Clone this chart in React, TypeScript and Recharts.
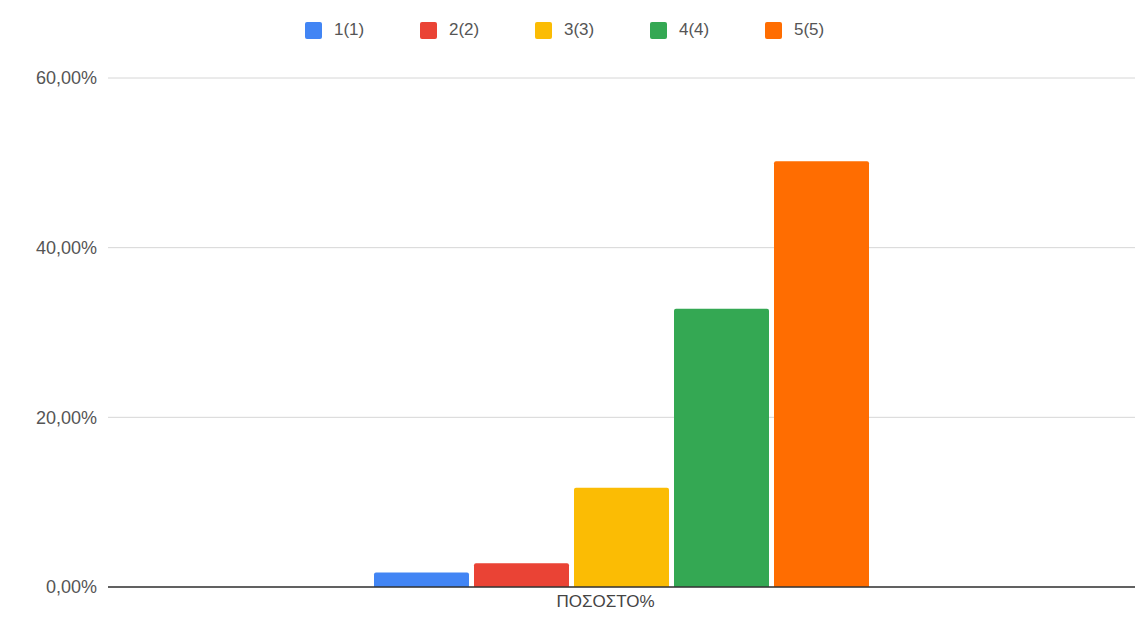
import React from 'react';
import { BarChart, Bar, XAxis, YAxis, CartesianGrid, Legend } from 'recharts';

const categories = ['ΠΟΣΟΣΤΟ%'];
const seriesNames = ['1(1)', '2(2)', '3(3)', '4(4)', '5(5)'];
const seriesValues = [1.7, 2.8, 11.7, 32.8, 50.2];
const seriesColors = ['#4285F4', '#EA4335', '#FBBC04', '#34A853', '#FF6D01'];
const yTicks = [0, 20, 40, 60];

const data = categories.map((c) => {
  const row: Record<string, string | number> = { category: c };
  seriesNames.forEach((n, i) => {
    row[n] = seriesValues[i];
  });
  return row;
});

const FONT = '"Liberation Sans", Arial, sans-serif';

const fmt = (v: number) => v.toFixed(2).replace('.', ',') + '%';

const LegendContent = () => (
  <div style={{ height: 40, display: 'flex', alignItems: 'center', paddingLeft: 305, fontFamily: FONT }}>
    {seriesNames.map((n, i) => (
      <div key={n} style={{ width: 115, display: 'flex', alignItems: 'center' }}>
        <span style={{ display: 'inline-block', width: 17, height: 17, background: seriesColors[i], borderRadius: 2, marginRight: 12 }} />
        <span style={{ fontSize: 17, color: '#555' }}>{n}</span>
      </div>
    ))}
  </div>
);

export default function App() {
  return (
    <div style={{ position: 'absolute', left: 0, top: 0, width: 1135, height: 618, background: '#fff' }}>
      <BarChart
        width={1135}
        height={618}
        data={data}
        margin={{ top: 38, right: 0, left: 0, bottom: 0 }}
        barGap={5}
        barSize={95}
      >
        <CartesianGrid vertical={false} stroke="#d6d6d6" />
        <Legend verticalAlign="top" content={<LegendContent />} wrapperStyle={{ top: 10, left: 0, width: 1135 }} />
        <XAxis
          dataKey="category"
          axisLine={{ stroke: '#333', strokeWidth: 1.5 }}
          tickLine={false}
          tickSize={0}
          tickMargin={8}
          tick={{ fontSize: 17, fill: '#444', fontFamily: FONT, dx: -16 }}
          height={31}
        />
        <YAxis
          domain={[0, 60]}
          ticks={yTicks}
          tickFormatter={fmt}
          axisLine={false}
          tickLine={false}
          tickSize={0}
          tickMargin={11}
          width={108}
          tick={{ fontSize: 18, fill: '#555', fontFamily: FONT }}
        />
        {seriesNames.map((n, i) => (
          <Bar key={n} dataKey={n} fill={seriesColors[i]} radius={[2, 2, 0, 0]} isAnimationActive={false} />
        ))}
      </BarChart>
    </div>
  );
}
